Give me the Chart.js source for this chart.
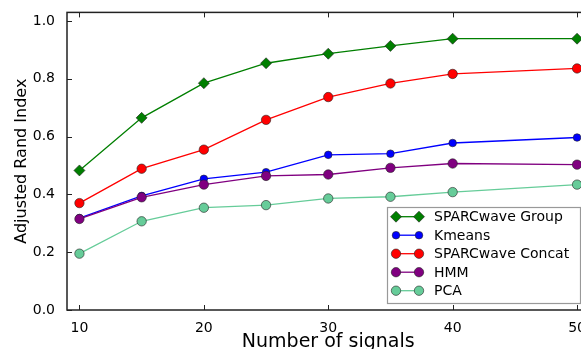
<!DOCTYPE html>
<html>
<head>
<meta charset="utf-8">
<script src="https://cdn.jsdelivr.net/npm/chart.js@4.4.1/dist/chart.umd.min.js"></script>
<style>
  html, body { margin: 0; padding: 0; background: #fff; overflow: hidden; }
  #wrap { width: 581px; height: 349px; overflow: hidden; position: relative; }
</style>
</head>
<body>
<div id="wrap"><canvas id="chart" width="600" height="360"></canvas></div>
<script>
// values
const signals = [10, 15, 20, 25, 30, 35, 40, 50]
const sparcGroup = [0.483, 0.665, 0.785, 0.854, 0.887, 0.914, 0.939, 0.939]
const kmeans = [0.318, 0.395, 0.454, 0.477, 0.537, 0.541, 0.578, 0.597]
const sparcConcat = [0.370, 0.489, 0.555, 0.658, 0.737, 0.784, 0.817, 0.836]
const hmm = [0.315, 0.390, 0.434, 0.464, 0.469, 0.492, 0.507, 0.503]
const pca = [0.195, 0.307, 0.354, 0.363, 0.386, 0.392, 0.408, 0.434]
const xTicks = [10, 20, 30, 40, 50]
const yTicks = [0, 0.2, 0.4, 0.6, 0.8, 1.0]

const FONT = 'DejaVu Sans'

const series = [
  { label: 'SPARCwave Group', values: sparcGroup, color: '#007f00', style: 'rectRot', r: 5.5 },
  { label: 'Kmeans', values: kmeans, color: '#0000ff', style: 'circle', r: 3.8 },
  { label: 'SPARCwave Concat', values: sparcConcat, color: '#ff0000', style: 'circle', r: 4.7 },
  { label: 'HMM', values: hmm, color: '#800080', style: 'circle', r: 4.7 },
  { label: 'PCA', values: pca, color: '#66cc99', style: 'circle', r: 4.7 }
]

// marker shapes for the legend
function drawMarker(ctx, s, x, y) {
  ctx.beginPath()
  if (s.style === 'rectRot') {
    ctx.moveTo(x - s.r, y)
    ctx.lineTo(x, y - s.r)
    ctx.lineTo(x + s.r, y)
    ctx.lineTo(x, y + s.r)
    ctx.closePath()
  } else {
    ctx.arc(x, y, s.r, 0, Math.PI * 2)
  }
  ctx.fillStyle = s.color
  ctx.fill()
  ctx.lineWidth = 0.6
  ctx.strokeStyle = '#222'
  ctx.stroke()
}

// frame, inward ticks and the legend box
const framePlugin = {
  id: 'frame',
  afterDraw(chart) {
    const ctx = chart.ctx
    const { left, right, top, bottom } = chart.chartArea
    const xs = chart.scales.x
    const ys = chart.scales.y
    ctx.save()
    ctx.strokeStyle = '#222'
    ctx.lineWidth = 1
    xTicks.forEach((v) => {
      const px = Math.round(xs.getPixelForValue(v)) + 0.5
      ctx.beginPath()
      ctx.moveTo(px, bottom); ctx.lineTo(px, bottom - 5)
      ctx.moveTo(px, top); ctx.lineTo(px, top + 5)
      ctx.stroke()
    })
    yTicks.forEach((v) => {
      const py = Math.round(ys.getPixelForValue(v)) + 0.5
      ctx.beginPath()
      ctx.moveTo(left, py); ctx.lineTo(left + 5, py)
      ctx.moveTo(right, py); ctx.lineTo(right - 5, py)
      ctx.stroke()
    })
    ctx.lineWidth = 1.5
    ctx.strokeRect(left, top, right - left, bottom - top)

    // legend
    const bx = 387, by = 207, bw = 193, bh = 96
    ctx.fillStyle = '#fff'
    ctx.fillRect(bx, by, bw, bh)
    ctx.lineWidth = 1.2
    ctx.strokeStyle = '#999'
    ctx.strokeRect(bx + 0.5, by + 0.5, bw, bh)
    ctx.font = '14px "' + FONT + '"'
    ctx.textBaseline = 'middle'
    series.forEach((s, i) => {
      const y = 216.7 + i * 18.5
      ctx.beginPath()
      ctx.moveTo(396, y); ctx.lineTo(419, y)
      ctx.strokeStyle = s.color
      ctx.lineWidth = 1.3
      ctx.stroke()
      drawMarker(ctx, s, 396, y)
      drawMarker(ctx, s, 419, y)
      ctx.fillStyle = '#000'
      ctx.fillText(s.label, 434, y + 1)
    })
    ctx.restore()
  }
}

const datasets = series.map((s, i) => ({
  label: s.label,
  data: signals.map((x, j) => ({ x: x, y: s.values[j] })),
  borderColor: s.color,
  backgroundColor: s.color,
  borderWidth: 1.3,
  pointStyle: s.style,
  pointRadius: s.r,
  pointBorderColor: '#222',
  pointBorderWidth: 0.6,
  fill: false,
  tension: 0,
  order: series.length - i
}))

new Chart(document.getElementById('chart').getContext('2d'), {
  type: 'line',
  data: { datasets: datasets },
  options: {
    responsive: false,
    animation: false,
    devicePixelRatio: 1,
    layout: { padding: { top: 11, right: 10.5, left: 0, bottom: 0 } },
    plugins: { legend: { display: false }, tooltip: { enabled: false } },
    scales: {
      x: {
        type: 'linear',
        min: 9,
        max: 51,
        grid: { display: false },
        border: { display: false },
        afterBuildTicks: (s) => { s.ticks = xTicks.map((v) => ({ value: v })) },
        afterFit: (s) => { s.height = 50 },
        ticks: { color: '#000', font: { family: FONT, size: 14 }, padding: 2, maxRotation: 0 },
        title: { display: true, text: 'Number of signals', color: '#000', font: { family: FONT, size: 19 }, padding: { top: 0, bottom: 7 } }
      },
      y: {
        min: 0,
        max: 1.03,
        grid: { display: false },
        border: { display: false },
        afterBuildTicks: (s) => { s.ticks = yTicks.map((v) => ({ value: v })) },
        afterFit: (s) => { s.width = 67 },
        ticks: { color: '#000', font: { family: FONT, size: 14 }, padding: 4, callback: (v) => v.toFixed(1) },
        title: { display: true, text: 'Adjusted Rand Index', color: '#000', font: { family: FONT, size: 16 }, padding: { top: 12, bottom: 0 } }
      }
    }
  },
  plugins: [framePlugin]
})
</script>
</body>
</html>
